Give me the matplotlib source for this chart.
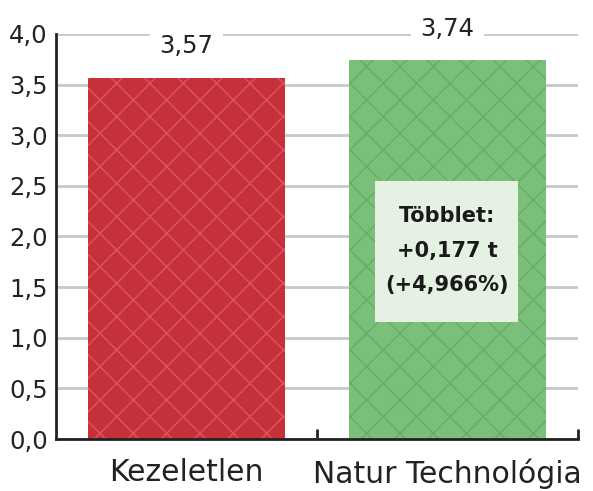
import matplotlib.pyplot as plt
from matplotlib.patches import Rectangle
from matplotlib.ticker import FixedLocator, FuncFormatter

# Adatok
kategoriak = ['Kezeletlen', 'Natur Technológia']
ertekek = [3.57, 3.74]
szinek = ['#C6303B', '#7BC07A']
minta_szinek = ['#D9545D', '#69AE67']
cimkek = ['3,57', '3,74']
tobblet_szoveg = 'Többlet:\n+0,177 t\n(+4,966%)'

plt.rcParams['font.family'] = ['DejaVu Sans']
plt.rcParams['hatch.linewidth'] = 1.1

fig = plt.figure(figsize=(5.93, 4.91), dpi=100)
ax = fig.add_axes([0.0944, 0.1059, 0.880, 0.8249])

x = list(range(len(kategoriak)))
for i in x:
    ax.bar(i, ertekek[i], width=0.755, color=szinek[i], edgecolor=minta_szinek[i],
           hatch='/\\', linewidth=0, zorder=2)
    ax.text(i, ertekek[i] + 0.31, cimkek[i], ha='center', va='center', fontsize=17.5,
            color='#222222', zorder=4, clip_on=False,
            bbox=dict(facecolor='white', edgecolor='none', pad=7))

# többlet doboz a zöld oszlopon
ax.add_patch(Rectangle((0.722, 1.156), 0.548, 1.392, facecolor='#E4F1E3',
                       edgecolor='none', zorder=4))
ax.text(1, 1.86, tobblet_szoveg, ha='center', va='center', fontsize=15,
        fontweight='bold', color='#1a1a1a', linespacing=1.9, zorder=5)

ax.set_xlim(-0.5, 1.5)
ax.set_ylim(0, 4.0)
ax.set_yticks([0, 0.5, 1, 1.5, 2, 2.5, 3, 3.5, 4])
ax.yaxis.set_major_formatter(FuncFormatter(lambda v, p: f'{v:.1f}'.replace('.', ',')))
ax.set_xticks(x)
ax.set_xticklabels(kategoriak)
ax.xaxis.set_minor_locator(FixedLocator([0.5, 1.5]))
ax.tick_params(axis='x', which='major', length=0, labelsize=21.5, pad=14, colors='#222222')
ax.tick_params(axis='x', which='minor', direction='in', length=7, width=2, color='#222222')
ax.tick_params(axis='y', length=0, labelsize=17.5, pad=6, colors='#222222')

ax.grid(axis='y', color='#C8C8C8', linewidth=2, zorder=0)
ax.set_axisbelow(True)
for s in ['top', 'right']:
    ax.spines[s].set_visible(False)
for s in ['left', 'bottom']:
    ax.spines[s].set_linewidth(2)
    ax.spines[s].set_color('#222222')
    ax.spines[s].set_zorder(3)

fig.savefig('out.png', dpi=100)
